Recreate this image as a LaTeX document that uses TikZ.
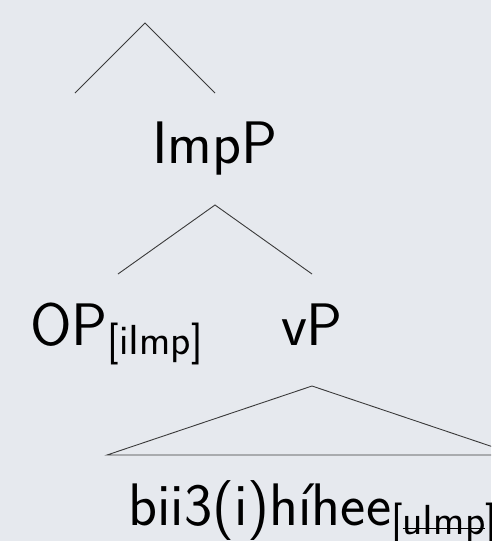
\documentclass[tikz,border=0pt]{standalone}
\definecolor{bgcol}{HTML}{E6E9EE}
\definecolor{branch}{HTML}{3A3A3A}
% feature subscript, lowered below the label baseline
\newcommand{\feat}[1]{\raisebox{-9pt}{\fontsize{42}{50}\selectfont #1}}
% struck-out feature value
\newcommand{\strk}[1]{\setbox0\hbox{#1}\rlap{\rule[0.3ex]{\wd0}{0.9pt}}\box0}
\begin{document}
\begin{tikzpicture}[x=1pt,y=-1pt,
  lbl/.style={inner sep=0pt,font=\sffamily\fontsize{60}{72}\selectfont,text=black},
  edge/.style={draw=branch,line width=0.9pt}]
\fill[bgcol] (0,0) rectangle (491,541);
\useasboundingbox (0,0) rectangle (491,541);
\clip (0,0) rectangle (491,541);

% upper branch point
\coordinate (top) at (145,23);
\coordinate (topL) at (75,93);
\coordinate (topR) at (215,93);
\node[lbl,anchor=base] (imp) at (215,163) {ImpP};

% ImpP branching
\coordinate (impB) at (215,205);
\coordinate (impL) at (118,274);
\coordinate (impR) at (312,274);
\node[lbl,anchor=base west] (op) at (30,345) {OP\feat{[iImp]}};
\node[lbl,anchor=base] (vp) at (312,345) {vP};

% vP triangle
\coordinate (vpB) at (312,386);
\coordinate (vpL) at (107,455);
\coordinate (vpR) at (517,455);
\node[lbl,anchor=base west] (verb) at (128,525) {bii3(i)híhee\feat{[\strk{uImp}]}};

\draw[edge] (topL) -- (top) -- (topR);
\draw[edge] (impL) -- (impB) -- (impR);
\draw[edge] (vpL) -- (vpB) -- (vpR) -- cycle;
\end{tikzpicture}
\end{document}
